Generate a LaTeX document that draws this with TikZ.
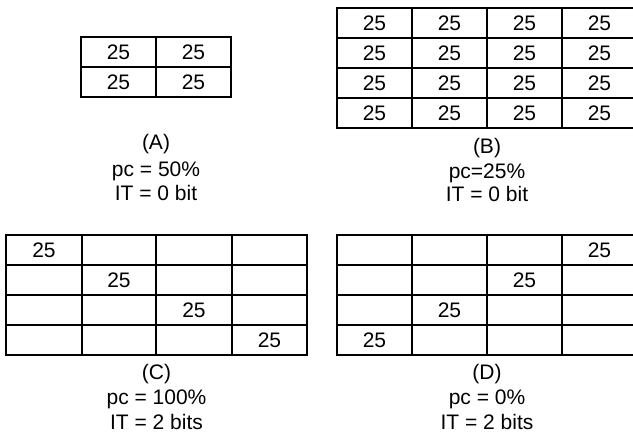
\documentclass[tikz,border=0pt]{standalone}
\usepackage{fontspec}
\setmainfont{Liberation Sans}
\begin{document}
\begin{tikzpicture}[x=1pt,y=-1pt,
  grid/.style={line width=1.8pt,line cap=rect},
  val/.style={anchor=base,inner sep=0pt,font=\fontsize{21}{24}\selectfont},
  lab/.style={anchor=base,inner sep=0pt,font=\fontsize{21}{24}\selectfont}]
\useasboundingbox (0,0) rectangle (633,434);
% ---- Table A
\draw[grid] (81,37) rectangle (231,97);
\draw[grid] (156,37) -- (156,97) (81,67) -- (231,67);
\node[val] (a11) at (118.5,59.5) {25};
\node[val] (a12) at (193.5,59.5) {25};
\node[val] (a21) at (118.5,89.5) {25};
\node[val] (a22) at (193.5,89.5) {25};
\node[lab] (la1) at (156,149.5) {(A)};
\node[lab] (la2) at (156,176) {pc = 50\%};
\node[lab] (la3) at (156,200) {IT = 0 bit};
% ---- Table B
\foreach \y in {8,38,68,98,128} \draw[grid] (337,\y) -- (640,\y);
\foreach \x in {337,412,487,562} \draw[grid] (\x,8) -- (\x,128);
\foreach \r in {1,...,4}
  \foreach \c in {1,...,4}
    \node[val] (b\r\c) at ({374.5+75*(\c-1)},{30.5+30*(\r-1)}) {25};
\node[lab] (lb1) at (487,153) {(B)};
\node[lab] (lb2) at (487,178) {pc=25\%};
\node[lab] (lb3) at (487,201.5) {IT = 0 bit};
% ---- Table C
\foreach \y in {235,265,295,325,355} \draw[grid] (6,\y) -- (307,\y);
\foreach \x in {6,82,156,232,307} \draw[grid] (\x,235) -- (\x,355);
\node[val] (c11) at (44,257.8) {25};
\node[val] (c22) at (119,287.8) {25};
\node[val] (c33) at (194,317.8) {25};
\node[val] (c44) at (269.5,347.8) {25};
\node[lab] (lc1) at (156.5,379) {(C)};
\node[lab] (lc2) at (156.5,404) {pc = 100\%};
\node[lab] (lc3) at (156.5,429) {IT = 2 bits};
% ---- Table D
\foreach \y in {235,265,295,325,355} \draw[grid] (337,\y) -- (640,\y);
\foreach \x in {337,412,487,562} \draw[grid] (\x,235) -- (\x,355);
\node[val] (d14) at (599.5,257.8) {25};
\node[val] (d23) at (524.5,287.8) {25};
\node[val] (d32) at (449.5,317.8) {25};
\node[val] (d41) at (374.5,347.8) {25};
\node[lab] (ld1) at (487,379) {(D)};
\node[lab] (ld2) at (487,404) {pc = 0\%};
\node[lab] (ld3) at (487,429) {IT = 2 bits};
\end{tikzpicture}
\end{document}
